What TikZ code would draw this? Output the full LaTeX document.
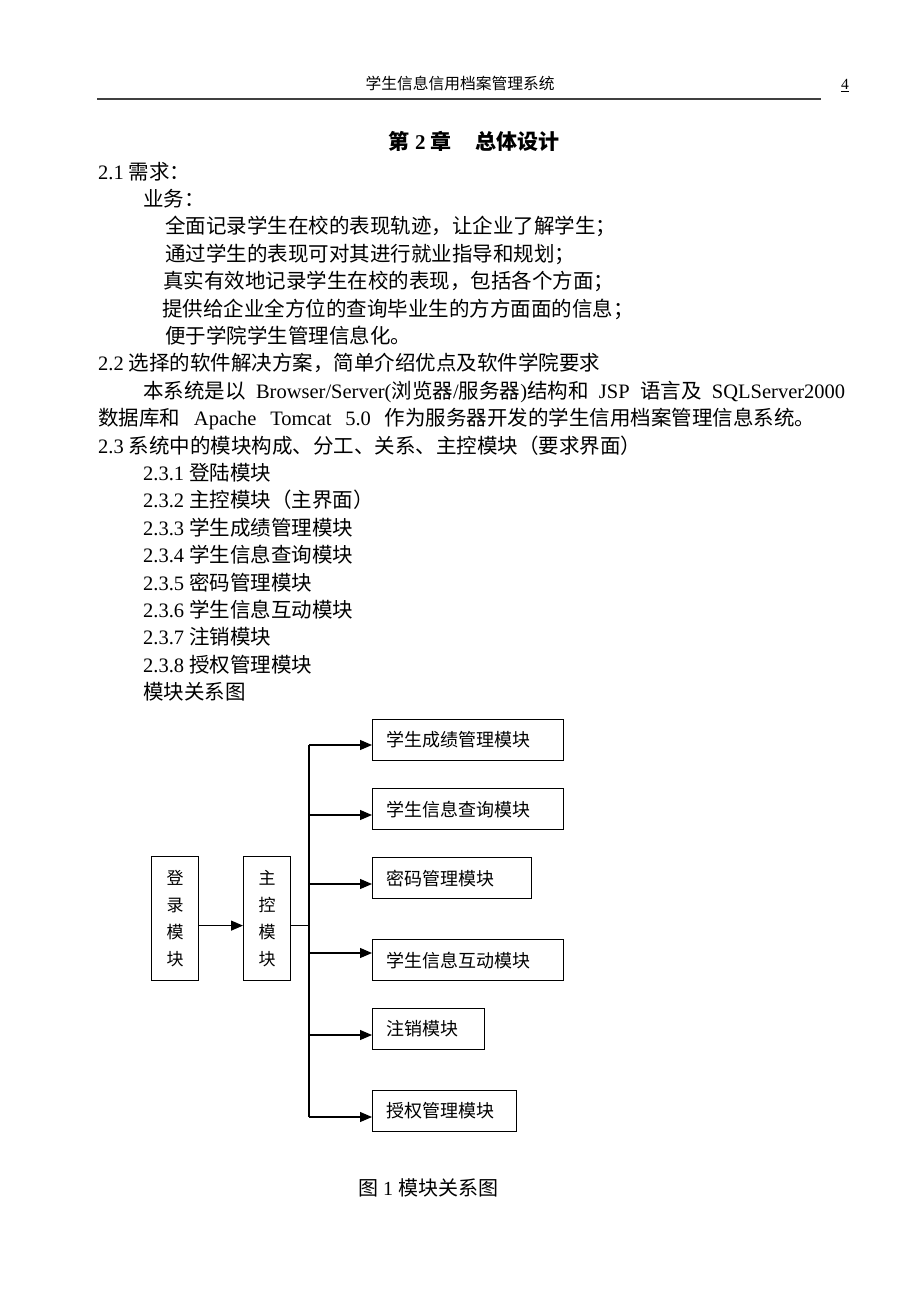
\documentclass[tikz,border=0pt]{standalone}
\usepackage{fontspec}
\setmainfont{Liberation Serif}
\newfontfamily\zhfont{Noto Sans CJK SC}
\usepackage{tikz}
\usetikzlibrary{arrows.meta}
\newcommand{\zh}[1]{{\zhfont #1}}
\tikzset{ txt_line/.style = {anchor=base west, inner sep=0pt, font=\fontsize{20.5}{24}\selectfont} }
\tikzset{ vert_box/.style = {rectangle, draw, line width=1.2pt, anchor=north west, minimum width=47pt, minimum height=124pt, align=center, inner sep=0pt, font=\zhfont\fontsize{17}{27.3}\selectfont} }
\tikzset{ mod_box/.style = {rectangle, draw, line width=1.2pt, anchor=north west, minimum height=41pt, inner xsep=14pt, inner ysep=0pt, align=left, text width=#1, font=\zhfont\fontsize{18}{20}\selectfont} }
\tikzset{ link/.style = {line width=1.2pt, -{Triangle[length=12pt,width=10pt]}} }

\begin{document}
\begin{tikzpicture}[x=1pt, y=-1pt]
        \useasboundingbox (0,0) rectangle (920,1300);
        % page head
        \node [anchor=base, inner sep=0pt, font=\zhfont\fontsize{15.75}{18}\selectfont] (head) at (460,90) {学生信息信用档案管理系统};
        \node [anchor=base, inner sep=0pt, font=\fontsize{15.5}{18}\selectfont] (page) at (845,90) {\underline{4}};
        \coordinate (rule_l) at (97,99);
        \coordinate (rule_r) at (821,99);
        \draw [line width=2pt, black!75] (rule_l) -- (rule_r);
        % chapter title
        \node [anchor=base, inner sep=0pt, font=\bfseries\fontsize{21}{24}\selectfont] (title) at (474,150) {\zh{第} 2 \zh{章}\hspace{1.1em}\zh{总体设计}};
        % body text
        \node [txt_line] (l0) at (98,179) {2.1 \zh{需求：}};
        \node [txt_line] (l1) at (143,206.4) {\zh{业务：}};
        \node [txt_line] (l2) at (165,233.8) {\zh{全面记录学生在校的表现轨迹，让企业了解学生；}};
        \node [txt_line] (l3) at (165,261.2) {\zh{通过学生的表现可对其进行就业指导和规划；}};
        \node [txt_line] (l4) at (163,288.6) {\zh{真实有效地记录学生在校的表现，包括各个方面；}};
        \node [txt_line] (l5) at (162,316) {\zh{提供给企业全方位的查询毕业生的方方面面的信息；}};
        \node [txt_line] (l6) at (165,343.4) {\zh{便于学院学生管理信息化。}};
        \node [txt_line] (l7) at (98,370.8) {2.2 \zh{选择的软件解决方案，简单介绍优点及软件学院要求}};
        \node [txt_line] (l8) at (143,398.2) {\makebox[702pt][s]{\zh{本系统是以} Browser/Server(\zh{浏览器}/\zh{服务器})\zh{结构和} JSP \zh{语言及} SQLServer2000}};
        \node [txt_line] (l9) at (98,425.6) {\makebox[717pt][s]{\zh{数据库和} Apache Tomcat 5.0 \zh{作为服务器开发的学生信用档案管理信息系统。}}};
        \node [txt_line] (l10) at (98,453) {2.3 \zh{系统中的模块构成、分工、关系、主控模块（要求界面）}};
        \node [txt_line] (l11) at (143,480.4) {2.3.1 \zh{登陆模块}};
        \node [txt_line] (l12) at (143,507.8) {2.3.2 \zh{主控模块（主界面）}};
        \node [txt_line] (l13) at (143,535.2) {2.3.3 \zh{学生成绩管理模块}};
        \node [txt_line] (l14) at (143,562.6) {2.3.4 \zh{学生信息查询模块}};
        \node [txt_line] (l15) at (143,590) {2.3.5 \zh{密码管理模块}};
        \node [txt_line] (l16) at (143,617.4) {2.3.6 \zh{学生信息互动模块}};
        \node [txt_line] (l17) at (143,644.8) {2.3.7 \zh{注销模块}};
        \node [txt_line] (l18) at (143,672.2) {2.3.8 \zh{授权管理模块}};
        \node [txt_line] (l19) at (143,699.6) {\zh{模块关系图}};
        % module diagram
        \node [vert_box] (login) at (151,856) {登\\录\\模\\块};
        \node [vert_box] (main) at (243,856) {主\\控\\模\\块};
        \node [mod_box=163pt] (score) at (372,719) {学生成绩管理模块};
        \node [mod_box=163pt] (query) at (372,788) {学生信息查询模块};
        \node [mod_box=131pt] (pwd) at (372,857) {密码管理模块};
        \node [mod_box=163pt] (talk) at (372,939) {学生信息互动模块};
        \node [mod_box=84pt] (logout) at (372,1008) {注销模块};
        \node [mod_box=116pt] (auth) at (372,1090) {授权管理模块};
        \coordinate (b1) at (309,745);
        \coordinate (b2) at (309,815);
        \coordinate (b3) at (309,884);
        \coordinate (b4) at (309,953);
        \coordinate (b5) at (309,1035);
        \coordinate (b6) at (309,1117);
        \draw [link] ([yshift=-7pt]login.east) -- ([yshift=-7pt]main.west);
        \draw [line width=1.2pt] ([yshift=-7pt]main.east) -- ([yshift=-7pt]main.east -| b1);
        \draw [line width=1.2pt] (b1) -- (b6);
        \draw [link] (b1) -- (b1 -| score.west);
        \draw [link] (b2) -- (b2 -| query.west);
        \draw [link] (b3) -- (b3 -| pwd.west);
        \draw [link] (b4) -- (b4 -| talk.west);
        \draw [link] (b5) -- (b5 -| logout.west);
        \draw [link] (b6) -- (b6 -| auth.west);
        \node [anchor=base, inner sep=0pt, font=\fontsize{20}{24}\selectfont] (caption) at (428,1195) {\zh{图} 1 \zh{模块关系图}};
\end{tikzpicture}
\end{document}
